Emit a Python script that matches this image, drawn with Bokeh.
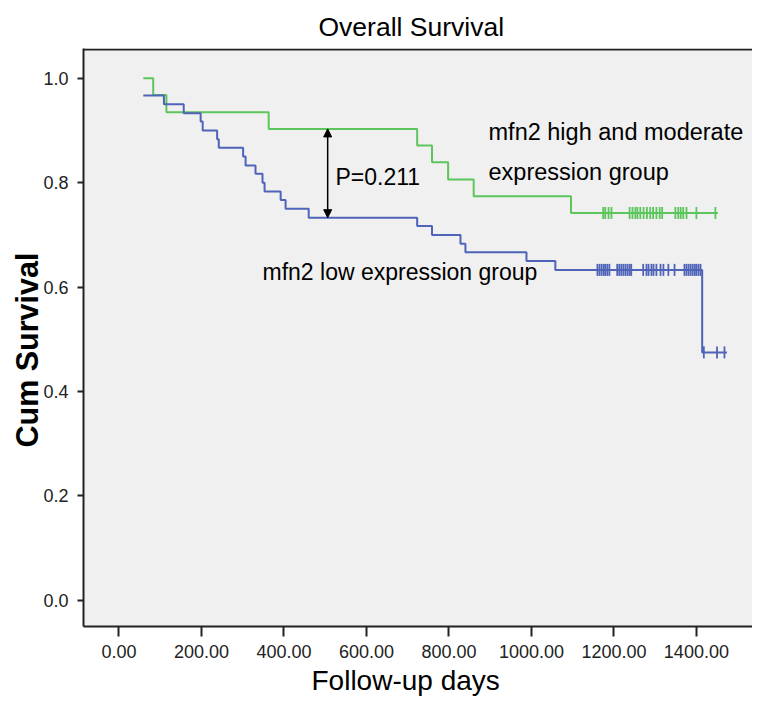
import numpy as np
from bokeh.plotting import figure
from bokeh.models import Range1d, Label, Span, Arrow, NormalHead, FixedTicker, Title
from bokeh.embed import file_html
from bokeh.resources import INLINE

# ---- data ----
green_times = [59, 83, 115, 363, 723, 759, 798, 860, 1096]
green_surv = [1.0, 0.968, 0.935, 0.903, 0.871, 0.839, 0.806, 0.774, 0.742]
green_end = 1452
green_censor = [1174, 1179, 1187, 1194, 1238, 1245, 1252, 1257, 1264, 1272, 1280,
                1288, 1295, 1303, 1311, 1317, 1349, 1356, 1362, 1368, 1376, 1400, 1446]

blue_times = [59, 109, 157, 198, 203, 238, 242, 301, 307, 331, 348, 353, 392, 404,
              460, 723, 759, 828, 840, 988, 1058, 1414]
blue_surv = [0.967, 0.950, 0.933, 0.917, 0.900, 0.883, 0.867, 0.850, 0.833, 0.817,
             0.800, 0.783, 0.767, 0.750, 0.733, 0.717, 0.700, 0.683, 0.667, 0.650,
             0.633, 0.475]
blue_end = 1474
blue_censor = [1160, 1165, 1170, 1175, 1179, 1184, 1189,
               1208, 1213, 1218, 1223, 1228, 1233, 1238, 1242,
               1271, 1279, 1284, 1291, 1296, 1303, 1313, 1320, 1332, 1347,
               1371, 1376, 1381, 1386, 1391, 1396, 1400, 1405, 1410,
               1418, 1450, 1468]

x_ticks = [0, 200, 400, 600, 800, 1000, 1200, 1400]
x_tick_labels = ["0.00", "200.00", "400.00", "600.00", "800.00", "1000.00", "1200.00", "1400.00"]
y_ticks = [0.0, 0.2, 0.4, 0.6, 0.8, 1.0]
y_tick_labels = ["0.0", "0.2", "0.4", "0.6", "0.8", "1.0"]

p_value_text = "P=0.211"
arrow_day = 506

GREEN = "#5cc55c"
BLUE = "#4f63b8"
FONT = "Liberation Sans"

p = figure(width=752, height=699, output_backend="svg", toolbar_location=None,
           x_range=Range1d(-86, 1536), y_range=Range1d(-0.05, 1.057),
           min_border_left=83, min_border_right=0, min_border_top=48, min_border_bottom=73)
p.background_fill_color = "#f0f0f0"
p.border_fill_color = "white"
p.outline_line_color = None
p.xgrid.visible = False
p.ygrid.visible = False

for ax in (p.xaxis, p.yaxis):
    ax.axis_line_width = 2
    ax.axis_line_color = "#222222"
    ax.major_tick_line_color = "#222222"
    ax.major_tick_line_width = 2
    ax.major_tick_in = 0
    ax.minor_tick_line_color = None
    ax.major_label_text_font = FONT
    ax.major_label_text_font_size = "18px"
    ax.major_label_text_color = "#222222"

p.xaxis.ticker = FixedTicker(ticks=x_ticks)
p.xaxis.major_label_overrides = {t: l for t, l in zip(x_ticks, x_tick_labels)}
p.xaxis.major_tick_out = 10
p.xaxis.major_label_standoff = 8
p.yaxis.ticker = FixedTicker(ticks=y_ticks)
p.yaxis.major_label_overrides = {t: l for t, l in zip(y_ticks, y_tick_labels)}
p.yaxis.major_tick_out = 6
p.yaxis.major_label_standoff = 9

p.add_layout(Span(location=1.055, dimension="width", line_color="#222222", line_width=2))


def draw(times, surv, end, censor, color):
    xs = list(times) + [end]
    ys = list(surv) + [surv[-1]]
    p.step(xs, ys, mode="after", line_color=color, line_width=2)
    idx = np.searchsorted(np.array(times), np.array(censor), side="right") - 1
    cy = np.array(surv)[idx]
    p.scatter(censor, cy, marker="dash", angle=np.pi / 2, size=12,
              line_color=color, line_width=1.8)


draw(green_times, green_surv, green_end, green_censor, GREEN)
draw(blue_times, blue_surv, blue_end, blue_censor, BLUE)

# double-headed arrow between the curves
p.add_layout(Arrow(x_start=arrow_day, y_start=0.733, x_end=arrow_day, y_end=0.903,
                   line_color="black", line_width=1.5,
                   start=NormalHead(size=8, fill_color="black", line_color="black"),
                   end=NormalHead(size=8, fill_color="black", line_color="black")))

def lab(x, y, text, size, **kw):
    p.add_layout(Label(x=x, y=y, text=text, text_font=FONT, text_font_size=size,
                       text_color="black", **kw))

lab(525, 0.811, p_value_text, "23px", text_baseline="middle")
lab(896, 0.897, "mfn2 high and moderate", "23.5px", text_baseline="middle")
lab(896, 0.8205, "expression group", "23.5px", text_baseline="middle")
lab(348, 0.628, "mfn2 low expression group", "23px", text_baseline="middle")

p.add_layout(Title(text="Overall Survival", align="left", offset=235, text_color="black",
                   text_font=FONT, text_font_size="26.5px", text_font_style="normal",
                   standoff=14), "above")
p.add_layout(Title(text="Follow-up days", align="left", offset=228, text_color="black",
                   text_font=FONT, text_font_size="28px", text_font_style="normal",
                   standoff=4), "below")
p.add_layout(Title(text="Cum Survival", align="left", offset=179, text_color="black",
                   text_font=FONT, text_font_size="30.5px", text_font_style="bold",
                   standoff=-6), "left")

open("out.html", "w").write(file_html(p, INLINE))
